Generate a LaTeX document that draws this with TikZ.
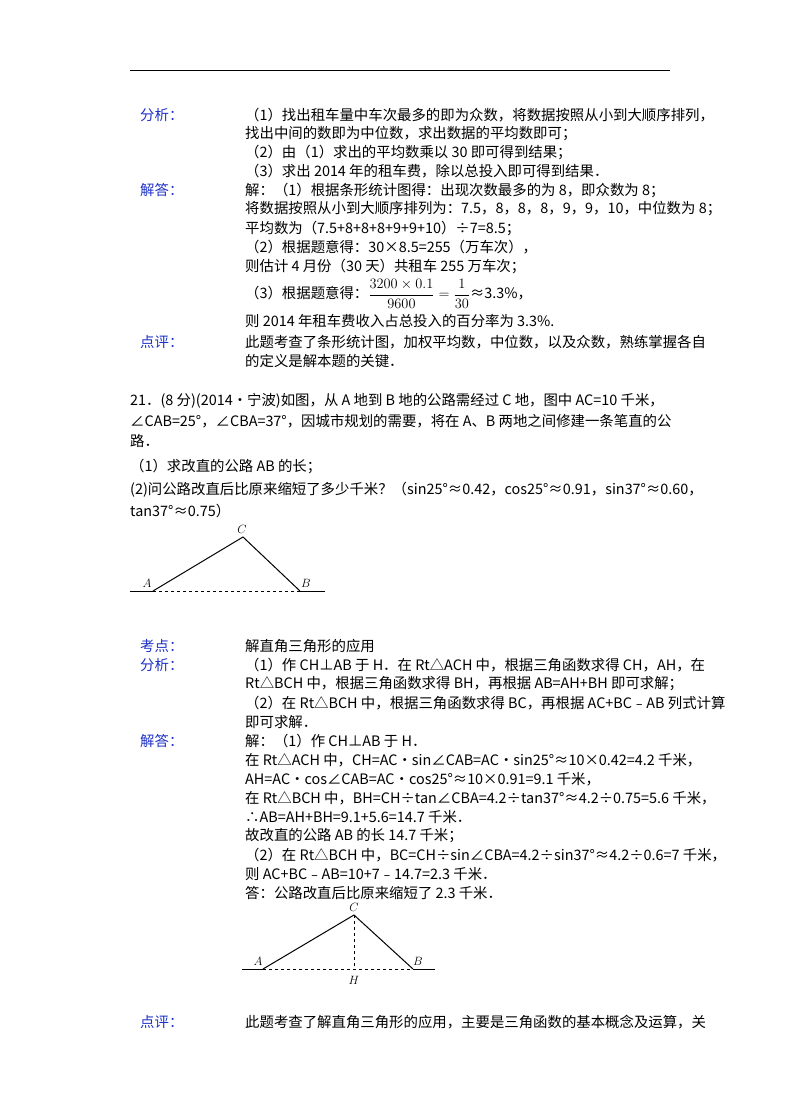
\documentclass[tikz,border=0pt]{standalone}
\usepackage{fontspec}
\setmainfont{Noto Sans CJK SC}
\begin{document}
\begin{tikzpicture}[x=1pt,y=-1pt,
  t/.style={anchor=west,inner sep=0pt,font=\fontsize{14.4}{15}\selectfont},
  lab/.style={t,text={rgb,255:red,30;green,50;blue,200}},
  fl/.style={inner sep=0pt,font=\fontsize{13}{13}\selectfont}]
\useasboundingbox (0,0) rectangle (800,1107);
\fill[white] (0,0) rectangle (800,1107);
\draw[line width=1pt] (130,71) -- (670,71);
\node[lab] (l1) at (140,115) {分析：};
\node[t] at (245,115) {（1）找出租车量中车次最多的即为众数，将数据按照从小到大顺序排列，};
\node[t] at (245,134) {找出中间的数即为中位数，求出数据的平均数即可；};
\node[t] at (245,152) {（2）由（1）求出的平均数乘以 30 即可得到结果；};
\node[t] at (245,171) {（3）求出 2014 年的租车费，除以总投入即可得到结果．};
\node[lab] (l2) at (140,190) {解答：};
\node[t] at (245,190) {解：（1）根据条形统计图得：出现次数最多的为 8，即众数为 8；};
\node[t] at (245,209) {将数据按照从小到大顺序排列为：7.5，8，8，8，9，9，10，中位数为 8；};
\node[t] at (245,228) {平均数为（7.5+8+8+8+9+9+10）÷7=8.5；};
\node[t] at (245,247) {（2）根据题意得：30×8.5=255（万车次），};
\node[t] at (245,266) {则估计 4 月份（30 天）共租车 255 万车次；};
\node[t] at (245,294) {（3）根据题意得：\fontsize{15}{15}\selectfont$\displaystyle\frac{3200\times0.1}{9600}=\frac{1}{30}$\fontsize{14.4}{15}\selectfont≈3.3\%，};
\node[t] at (245,321) {则 2014 年租车费收入占总投入的百分率为 3.3\%.};
\node[lab] (l3) at (140,342) {点评：};
\node[t] at (245,342) {此题考查了条形统计图，加权平均数，中位数，以及众数，熟练掌握各自};
\node[t] at (245,361) {的定义是解本题的关键．};
\node[t] at (130,401) {21．(8 分)(2014•宁波)如图，从 A 地到 B 地的公路需经过 C 地，图中 AC=10 千米，};
\node[t] at (130,421) {∠CAB=25°，∠CBA=37°，因城市规划的需要，将在 A、B 两地之间修建一条笔直的公};
\node[t] at (130,441) {路．};
\node[t] at (130,466) {（1）求改直的公路 AB 的长；};
\node[t] at (130,490) {(2)问公路改直后比原来缩短了多少千米？（sin25°≈0.42，cos25°≈0.91，sin37°≈0.60，};
\node[t] at (130,511) {tan37°≈0.75）};
% figure 1
\coordinate (A1) at (153,591); \coordinate (B1) at (300,591); \coordinate (C1) at (243,537);
\coordinate (L1) at (130,591); \coordinate (R1) at (325,591);
\draw[line width=1pt] (L1) -- (A1) (B1) -- (R1);
\draw[dashed,line width=0.8pt] (A1) -- (B1);
\draw[line width=1pt] (A1) -- (C1) -- (B1);
\node[fl] at (242,529) {$C$}; \node[fl] at (147,583) {$A$}; \node[fl] at (306,583) {$B$};
\node[lab] at (140,646) {考点：};
\node[t] at (245,646) {解直角三角形的应用};
\node[lab] at (140,665) {分析：};
\node[t] at (245,665) {（1）作 CH⊥AB 于 H．在 Rt△ACH 中，根据三角函数求得 CH，AH，在};
\node[t] at (245,684) {Rt△BCH 中，根据三角函数求得 BH，再根据 AB=AH+BH 即可求解；};
\node[t] at (245,703) {（2）在 Rt△BCH 中，根据三角函数求得 BC，再根据 AC+BC﹣AB 列式计算};
\node[t] at (245,722) {即可求解．};
\node[lab] at (140,741) {解答：};
\node[t] at (245,741) {解：（1）作 CH⊥AB 于 H．};
\node[t] at (245,760) {在 Rt△ACH 中，CH=AC•sin∠CAB=AC•sin25°≈10×0.42=4.2 千米，};
\node[t] at (245,779) {AH=AC•cos∠CAB=AC•cos25°≈10×0.91=9.1 千米，};
\node[t] at (245,798) {在 Rt△BCH 中，BH=CH÷tan∠CBA=4.2÷tan37°≈4.2÷0.75=5.6 千米，};
\node[t] at (245,817) {∴AB=AH+BH=9.1+5.6=14.7 千米．};
\node[t] at (245,836) {故改直的公路 AB 的长 14.7 千米；};
\node[t] at (245,855) {（2）在 Rt△BCH 中，BC=CH÷sin∠CBA=4.2÷sin37°≈4.2÷0.6=7 千米，};
\node[t] at (245,874) {则 AC+BC﹣AB=10+7﹣14.7=2.3 千米．};
\node[t] at (245,893) {答：公路改直后比原来缩短了 2.3 千米．};
% figure 2
\coordinate (A2) at (263,969); \coordinate (B2) at (413,969); \coordinate (C2) at (354,915);
\coordinate (H2) at (354,969);
\coordinate (L2) at (242,969); \coordinate (R2) at (435,969);
\draw[line width=1pt] (L2) -- (A2) (B2) -- (R2);
\draw[dashed,line width=0.8pt] (A2) -- (B2) (C2) -- (H2);
\draw[line width=1pt] (A2) -- (C2) -- (B2);
\node[fl] at (354,907) {$C$}; \node[fl] at (258,961) {$A$}; \node[fl] at (418,961) {$B$}; \node[fl] at (354,980) {$H$};
\node[lab] at (140,1022) {点评：};
\node[t] at (245,1022) {此题考查了解直角三角形的应用，主要是三角函数的基本概念及运算，关};
\end{tikzpicture}
\end{document}
